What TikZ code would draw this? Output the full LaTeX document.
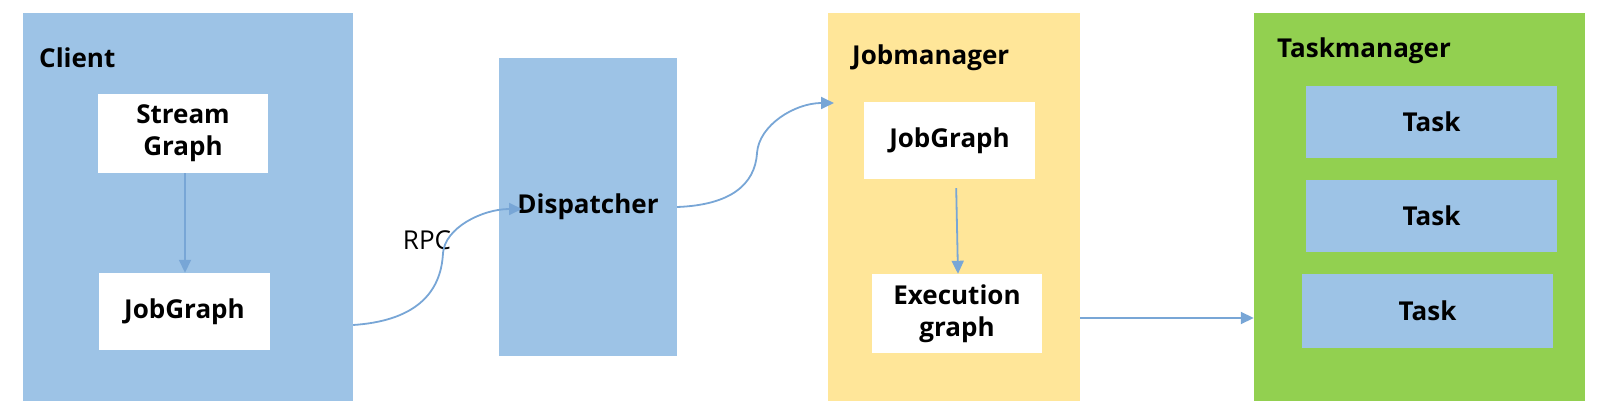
\documentclass[tikz,border=0pt]{standalone}
\usepackage{fontspec}
\setmainfont{Open Sans}
\usetikzlibrary{arrows.meta}
\definecolor{cblue}{HTML}{9DC3E6}
\definecolor{cyellow}{HTML}{FFE699}
\definecolor{cgreen}{HTML}{92D050}
\definecolor{carrow}{HTML}{78A6D6}
\begin{document}
\begin{tikzpicture}[x=1pt,y=-1pt,
  panel/.style={fill=#1, draw=none, inner sep=0pt},
  inbox/.style={fill=#1, draw=none, inner sep=0pt, align=center,
    font=\fontsize{26}{32}\selectfont\bfseries},
  title/.style={inner sep=0pt, anchor=base west, font=\fontsize{26}{32}\selectfont\bfseries},
  conn/.style={draw=carrow, line width=1.8pt, -{Triangle[length=13pt,width=12pt]}}]
\useasboundingbox (0,0) rectangle (1610,414);
% panels
\node[panel=cblue, minimum width=330pt, minimum height=388pt] (client) at (188,207) {};
\node[panel=cblue, minimum width=178pt, minimum height=298pt,
  font=\fontsize{26}{32}\selectfont\bfseries] (disp) at (588,207) {Dispatcher};
\node[panel=cyellow, minimum width=252pt, minimum height=388pt] (jm) at (954,207) {};
\node[panel=cgreen, minimum width=331pt, minimum height=388pt] (tm) at (1419.5,207) {};
% titles
\node[title] (clientlbl) at (39,68) {Client};
\node[title] (jmlbl) at (852,65) {Jobmanager};
\node[title] (tmlbl) at (1277,58) {Taskmanager};
% inner boxes
\node[inbox=white, minimum width=170pt, minimum height=79pt] (sg) at (183,133.5) {Stream\\Graph};
\node[inbox=white, minimum width=171pt, minimum height=77pt] (cjg) at (184.5,311.5) {JobGraph};
\node[inbox=white, minimum width=171pt, minimum height=77pt] (jmjg) at (949.5,140.5) {JobGraph};
\node[inbox=white, minimum width=170pt, minimum height=79pt] (exec) at (957,313.5) {Execution\\graph};
\node[inbox=cblue, minimum width=251pt, minimum height=72pt] (t1) at (1431.5,122) {Task};
\node[inbox=cblue, minimum width=251pt, minimum height=72pt] (t2) at (1431.5,216) {Task};
\node[inbox=cblue, minimum width=251pt, minimum height=74pt] (t3) at (1427.5,311) {Task};
% RPC label
\node[inner sep=0pt, font=\fontsize{26}{32}\selectfont] (rpc) at (427,240) {RPC};
% connectors
\draw[conn] ([xshift=2pt]sg.south) -- ([xshift=0.5pt]cjg.north);
\draw[conn, shorten <=9pt] ([xshift=6.5pt]jmjg.south) -- ([xshift=1pt]exec.north);
\coordinate (rpcend) at (522,209);
\coordinate (jmend) at (834,103);
\draw[conn] ([yshift=-118pt]client.east) .. controls (413,321) and (441,295) .. (443,253)
  .. controls (445,228) and (482,209) .. (rpcend);
\draw[conn] (disp.east) .. controls (730,205) and (755,185) .. (757,153)
  .. controls (759,125) and (795,103) .. (jmend);
\draw[conn] ([yshift=-111pt]jm.east) -- ([yshift=-111pt]tm.west);
\end{tikzpicture}
\end{document}
